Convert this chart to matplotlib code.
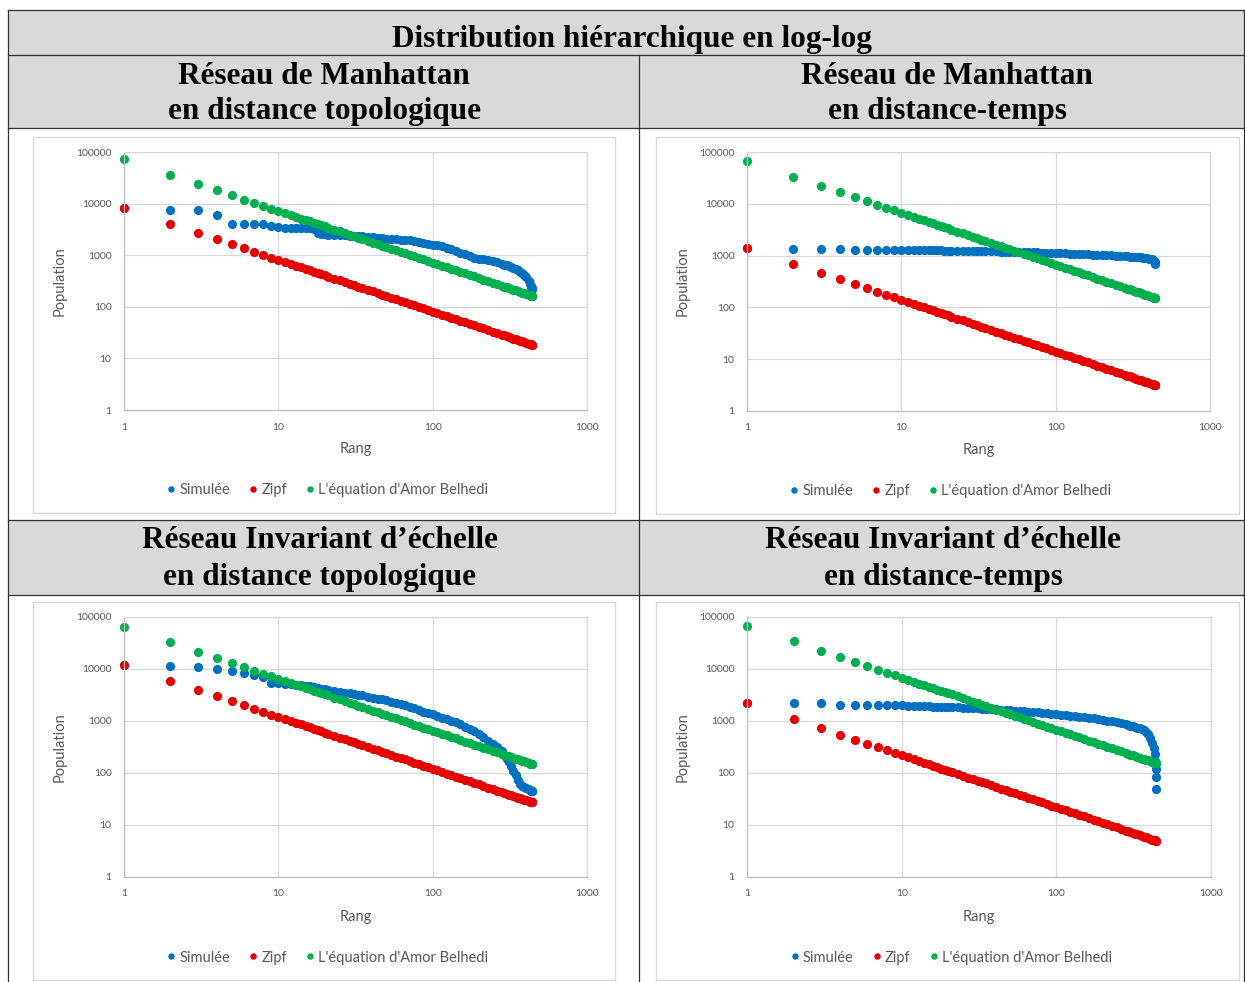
import matplotlib
matplotlib.use("Agg")
import matplotlib.pyplot as plt
from matplotlib.patches import Rectangle
from matplotlib.lines import Line2D
from matplotlib.ticker import NullLocator

# ---------------------------------------------------------------- data
titre = "Distribution hiérarchique en log-log"
entetes = [("Réseau de Manhattan", "en distance topologique"),
           ("Réseau de Manhattan", "en distance-temps"),
           ("Réseau Invariant d\u2019échelle", "en distance topologique"),
           ("Réseau Invariant d\u2019échelle", "en distance-temps")]
series_noms = ["Simulée", "Zipf", "L'équation d'Amor Belhedi"]

rangs = [1, 2, 3, 4, 5, 6, 7, 8, 9, 10,
         11, 12, 13, 14, 15, 16, 17, 18, 19, 20, 21,
         23, 25, 27, 29, 31, 33, 35, 38, 41, 44, 47, 50,
         54, 58, 62, 66, 71, 76, 81, 87, 93, 100,
         107, 115, 123, 132, 141, 151, 162, 174, 186, 199,
         213, 228, 245, 262, 281, 291, 301, 312, 323, 334, 346, 358, 370,
         380, 390, 405, 418, 428, 434, 436, 438, 439, 440]

# Manhattan, distance topologique
sim_1 = [8100, 7600, 7600, 6000, 4100, 4100, 4100, 4100, 3700, 3500,
         3400, 3400, 3350, 3300, 3300, 3300, 3250, 2700, 2600, 2550, 2500,
         2500, 2450, 2450, 2400, 2400, 2400, 2350, 2300, 2250, 2200, 2150, 2100,
         2100, 2050, 2000, 2000, 1950, 1900, 1800, 1700, 1650, 1600,
         1550, 1500, 1400, 1300, 1200, 1100, 1050, 950, 900, 860,
         830, 800, 780, 730, 680, 660, 640, 615, 590, 565, 540, 510, 480,
         450, 420, 370, 320, 280, 250, 240, 230, 225, 220]
zipf_1 = [8100, 4050, 2700, 2025, 1620, 1350, 1157, 1013, 900, 810,
          736, 675, 623, 579, 540, 506, 476, 450, 426, 405, 386,
          352, 324, 300, 279, 261, 245, 231, 213, 198, 184, 172, 162,
          150, 140, 131, 123, 114, 107, 100, 93.1, 87.1, 81,
          75.7, 70.4, 65.9, 61.4, 57.4, 53.6, 50, 46.6, 43.5, 40.7,
          38, 35.5, 33.1, 30.9, 28.8, 27.8, 26.9, 26.0, 25.1, 24.3, 23.4, 22.6, 21.9,
          21.3, 20.8, 20, 19.4, 18.9, 18.7, 18.6, 18.5, 18.5, 18.4]
belhedi_1 = [72000, 36000, 24000, 18000, 14400, 12000, 10290, 9000, 8000, 7200,
             6545, 6000, 5538, 5143, 4800, 4500, 4235, 4000, 3789, 3600, 3429,
             3130, 2880, 2667, 2483, 2323, 2182, 2057, 1895, 1756, 1636, 1532, 1440,
             1333, 1241, 1161, 1091, 1014, 947, 889, 828, 774, 720,
             673, 626, 585, 545, 511, 477, 444, 414, 387, 362,
             338, 316, 294, 275, 256, 247, 239, 231, 223, 216, 208, 201, 195,
             189, 185, 178, 172, 168, 166, 165, 164, 164, 164]

# Manhattan, distance-temps
sim_2 = [1400, 1330, 1330, 1330, 1280, 1280, 1280, 1280, 1280, 1280,
         1275, 1270, 1270, 1265, 1265, 1260, 1260, 1255, 1250, 1250, 1245,
         1240, 1235, 1230, 1225, 1220, 1215, 1210, 1205, 1200, 1195, 1190, 1185,
         1180, 1175, 1170, 1165, 1160, 1150, 1140, 1135, 1125, 1120,
         1110, 1100, 1095, 1090, 1080, 1070, 1060, 1050, 1040, 1030,
         1020, 1010, 1000, 990, 975, 968, 960, 952, 945, 938, 930, 920, 910,
         900, 890, 870, 850, 820, 790, 770, 740, 720, 700]
zipf_2 = [1400, 700, 467, 350, 280, 233, 200, 175, 156, 140,
          127, 117, 108, 100, 93.3, 87.5, 82.4, 77.8, 73.7, 70, 66.7,
          60.9, 56, 51.9, 48.3, 45.2, 42.4, 40, 36.8, 34.1, 31.8, 29.8, 28,
          25.9, 24.1, 22.6, 21.2, 19.7, 18.4, 17.3, 16.1, 15.1, 14,
          13.1, 12.2, 11.4, 10.6, 9.93, 9.27, 8.64, 8.05, 7.53, 7.04,
          6.57, 6.14, 5.71, 5.34, 4.98, 4.81, 4.65, 4.49, 4.33, 4.19, 4.05, 3.91, 3.78,
          3.68, 3.59, 3.46, 3.35, 3.27, 3.23, 3.21, 3.2, 3.19, 3.18]
belhedi_2 = [67000, 33500, 22300, 16750, 13400, 11170, 9570, 8380, 7440, 6700,
             6090, 5580, 5150, 4790, 4470, 4190, 3940, 3720, 3530, 3350, 3190,
             2910, 2680, 2480, 2310, 2160, 2030, 1910, 1760, 1630, 1520, 1430, 1340,
             1240, 1155, 1081, 1015, 944, 882, 827, 770, 720, 670,
             626, 583, 545, 508, 475, 444, 414, 385, 360, 337,
             315, 294, 273, 256, 238, 230, 223, 215, 207, 201, 194, 187, 181,
             176, 172, 165, 160, 157, 154, 154, 153, 153, 152]

# Invariant d'echelle, distance topologique
sim_3 = [12000, 11200, 10900, 9900, 9300, 8200, 7700, 7000, 5300, 5300,
         5200, 5100, 5000, 4900, 4800, 4650, 4500, 4400, 4200, 4100, 4000,
         3800, 3650, 3500, 3400, 3300, 3200, 3100, 2950, 2800, 2700, 2600, 2500,
         2350, 2250, 2150, 2050, 1880, 1760, 1620, 1520, 1420, 1340,
         1250, 1160, 1090, 1020, 950, 860, 780, 700, 630, 560,
         490, 420, 360, 310, 260, 220, 190, 160, 135, 110, 90, 72, 62,
         57, 54, 51, 49, 47, 46, 46, 45, 45, 45]
zipf_3 = [12000, 6000, 4000, 3000, 2400, 2000, 1714, 1500, 1333, 1200,
          1091, 1000, 923, 857, 800, 750, 706, 667, 632, 600, 571,
          522, 480, 444, 414, 387, 364, 343, 316, 293, 273, 255, 240,
          222, 207, 194, 182, 169, 158, 148, 138, 129, 120,
          112, 104, 97.6, 90.9, 85.1, 79.5, 74.1, 69, 64.5, 60.3,
          56.3, 52.6, 49, 45.8, 42.7, 41.2, 39.9, 38.5, 37.2, 35.9, 34.7, 33.5, 32.4,
          31.6, 30.8, 29.6, 28.7, 28, 27.6, 27.5, 27.4, 27.3, 27.3]
belhedi_3 = [65000, 32500, 21670, 16250, 13000, 10830, 9290, 8130, 7220, 6500,
             5910, 5420, 5000, 4640, 4330, 4060, 3820, 3610, 3420, 3250, 3100,
             2830, 2600, 2410, 2240, 2100, 1970, 1860, 1710, 1590, 1480, 1380, 1300,
             1204, 1121, 1048, 985, 915, 855, 802, 747, 699, 650,
             607, 565, 528, 492, 461, 430, 401, 374, 349, 327,
             305, 285, 265, 248, 231, 223, 216, 208, 201, 195, 188, 182, 176,
             171, 167, 160, 156, 152, 150, 149, 148, 148, 148]

# Invariant d'echelle, distance-temps
sim_4 = [2200, 2190, 2190, 2000, 2000, 2000, 2000, 2000, 2000, 2000,
         1980, 1960, 1950, 1940, 1930, 1900, 1890, 1880, 1870, 1860, 1850,
         1820, 1800, 1780, 1760, 1740, 1720, 1700, 1690, 1670, 1660, 1640, 1620,
         1590, 1560, 1540, 1520, 1490, 1470, 1450, 1420, 1390, 1360,
         1330, 1300, 1270, 1240, 1210, 1180, 1150, 1120, 1090, 1060,
         1020, 980, 940, 900, 860, 835, 810, 790, 770, 745, 720, 690, 660,
         620, 570, 470, 380, 300, 230, 170, 120, 85, 50]
zipf_4 = [2200, 1100, 733, 550, 440, 367, 314, 275, 244, 220,
          200, 183, 169, 157, 147, 138, 129, 122, 116, 110, 105,
          95.7, 88, 81.5, 75.9, 71, 66.7, 62.9, 57.9, 53.7, 50, 46.8, 44,
          40.7, 37.9, 35.5, 33.3, 31, 28.9, 27.2, 25.3, 23.7, 22,
          20.6, 19.1, 17.9, 16.7, 15.6, 14.6, 13.6, 12.6, 11.8, 11.1,
          10.3, 9.65, 8.98, 8.4, 7.83, 7.56, 7.31, 7.05, 6.81, 6.59, 6.36, 6.15, 5.95,
          5.79, 5.64, 5.43, 5.26, 5.14, 5.07, 5.05, 5.02, 5.01, 5.0]
belhedi_4 = [68000, 34000, 22670, 17000, 13600, 11330, 9710, 8500, 7560, 6800,
             6180, 5670, 5230, 4860, 4530, 4250, 4000, 3780, 3580, 3400, 3240,
             2960, 2720, 2520, 2340, 2190, 2060, 1940, 1790, 1660, 1550, 1450, 1360,
             1259, 1172, 1097, 1030, 958, 895, 840, 782, 731, 680,
             636, 591, 553, 515, 482, 450, 420, 391, 366, 342,
             319, 298, 278, 260, 242, 234, 226, 218, 211, 204, 197, 190, 184,
             179, 174, 168, 163, 159, 157, 156, 155, 155, 155]

x_ticks = [1, 10, 100, 1000]
y_ticks = [1, 10, 100, 1000, 10000, 100000]

# ---------------------------------------------------------------- style
W, H = 1245, 982
BLEU, ROUGE, VERT = "#0070C0", "#E60000", "#00B050"
GRIS_TXT = "#595959"
GRIS_GRID = "#d9d9d9"
GRIS_ENTETE = "#d9d9d9"
MS = 6.6

plt.rcParams["font.family"] = ["Lato", "DejaVu Sans"]

fig = plt.figure(figsize=(W / 100, H / 100), dpi=100)
fig.patch.set_facecolor("white")


def fx(x):
    return x / W


def fy(y):
    return 1 - y / H


# table: grey header rows
for y0, y1 in [(10, 55), (55, 128), (520, 595)]:
    fig.patches.append(Rectangle((fx(8), fy(y1)), fx(1244) - fx(8), (y1 - y0) / H,
                                 transform=fig.transFigure, facecolor=GRIS_ENTETE,
                                 edgecolor="none", zorder=0))
# table: rules
for y in [10, 55, 128, 520, 595]:
    fig.lines.append(Line2D([fx(8), fx(1244)], [fy(y), fy(y)], transform=fig.transFigure,
                            color="#303030", lw=0.9))
for x, ytop in [(8, 10), (1244, 10), (639, 55)]:
    fig.lines.append(Line2D([fx(x), fx(x)], [fy(ytop), 0], transform=fig.transFigure,
                            color="#303030", lw=0.9))

serif = dict(family="Liberation Serif", fontweight="bold", fontsize=22.5,
             ha="center", va="center", color="black")
fig.text(fx(632), fy(39), titre, **serif)
entete_pos = [(324, 76, 112), (947, 76, 112), (320, 541, 578), (943, 541, 578)]
for (l1, l2), (cx, ya, yb) in zip(entetes, entete_pos):
    fig.text(fx(cx), fy(ya), l1, **serif)
    fig.text(fx(cx), fy(yb), l2, **serif)

# chart frames and plot areas (pixel boxes)
cadres = [(33, 137, 615, 513), (656, 137, 1239, 514),
          (33, 602, 615, 980), (656, 602, 1239, 980)]
zones = [(124, 152, 587, 410), (747, 152, 1210, 411),
         (124, 617, 587, 877), (747, 617, 1211, 877)]
donnees = [(sim_1, zipf_1, belhedi_1), (sim_2, zipf_2, belhedi_2),
           (sim_3, zipf_3, belhedi_3), (sim_4, zipf_4, belhedi_4)]

for (cx0, cy0, cx1, cy1) in cadres:
    fig.patches.append(Rectangle((fx(cx0), fy(cy1)), (cx1 - cx0) / W, (cy1 - cy0) / H,
                                 transform=fig.transFigure, facecolor="white",
                                 edgecolor=GRIS_GRID, lw=1.0, zorder=1))

for (x0, y0, x1, y1), (sim, zipf, belhedi) in zip(zones, donnees):
    ax = fig.add_axes([fx(x0), fy(y1), (x1 - x0) / W, (y1 - y0) / H], zorder=2)
    ax.set_facecolor("none")
    ax.set_xscale("log")
    ax.set_yscale("log")
    ax.set_xlim(1, 1000)
    ax.set_ylim(1, 100000)

    ax.plot(rangs, sim, "o", color=BLEU, ms=MS, mew=0, label=series_noms[0], clip_on=False)
    ax.plot(rangs, zipf, "o", color=ROUGE, ms=MS, mew=0, label=series_noms[1], clip_on=False)
    ax.plot(rangs, belhedi, "o", color=VERT, ms=MS, mew=0, label=series_noms[2], clip_on=False)

    ax.set_xticks(x_ticks)
    ax.set_xticklabels([str(t) for t in x_ticks])
    ax.set_yticks(y_ticks)
    ax.set_yticklabels([str(t) for t in y_ticks])
    ax.xaxis.set_minor_locator(NullLocator())
    ax.yaxis.set_minor_locator(NullLocator())
    ax.tick_params(length=0, labelsize=7.5, labelcolor=GRIS_TXT)
    ax.tick_params(axis="x", pad=9)
    ax.tick_params(axis="y", pad=9)
    ax.grid(True, color=GRIS_GRID, lw=0.9)
    ax.set_axisbelow(True)
    for s in ["top", "right"]:
        ax.spines[s].set_color(GRIS_GRID)
        ax.spines[s].set_linewidth(0.9)
    for s in ["left", "bottom"]:
        ax.spines[s].set_color("#bfbfbf")
        ax.spines[s].set_linewidth(0.9)

    ax.set_xlabel("Rang", fontsize=10.5, color=GRIS_TXT, va="center")
    ax.xaxis.set_label_coords(0.5, -0.152)
    ax.set_ylabel("Population", fontsize=10.5, color=GRIS_TXT, va="center")
    ax.yaxis.set_label_coords(-0.138, 0.5)

    ax.legend(loc="center", bbox_to_anchor=(0.44, -0.31), ncol=3, frameon=False,
              fontsize=10.5, labelcolor=GRIS_TXT, handlelength=0.6,
              handletextpad=0.25, columnspacing=1.3, markerscale=0.7,
              borderaxespad=0)

fig.savefig("out.png", dpi=100)
